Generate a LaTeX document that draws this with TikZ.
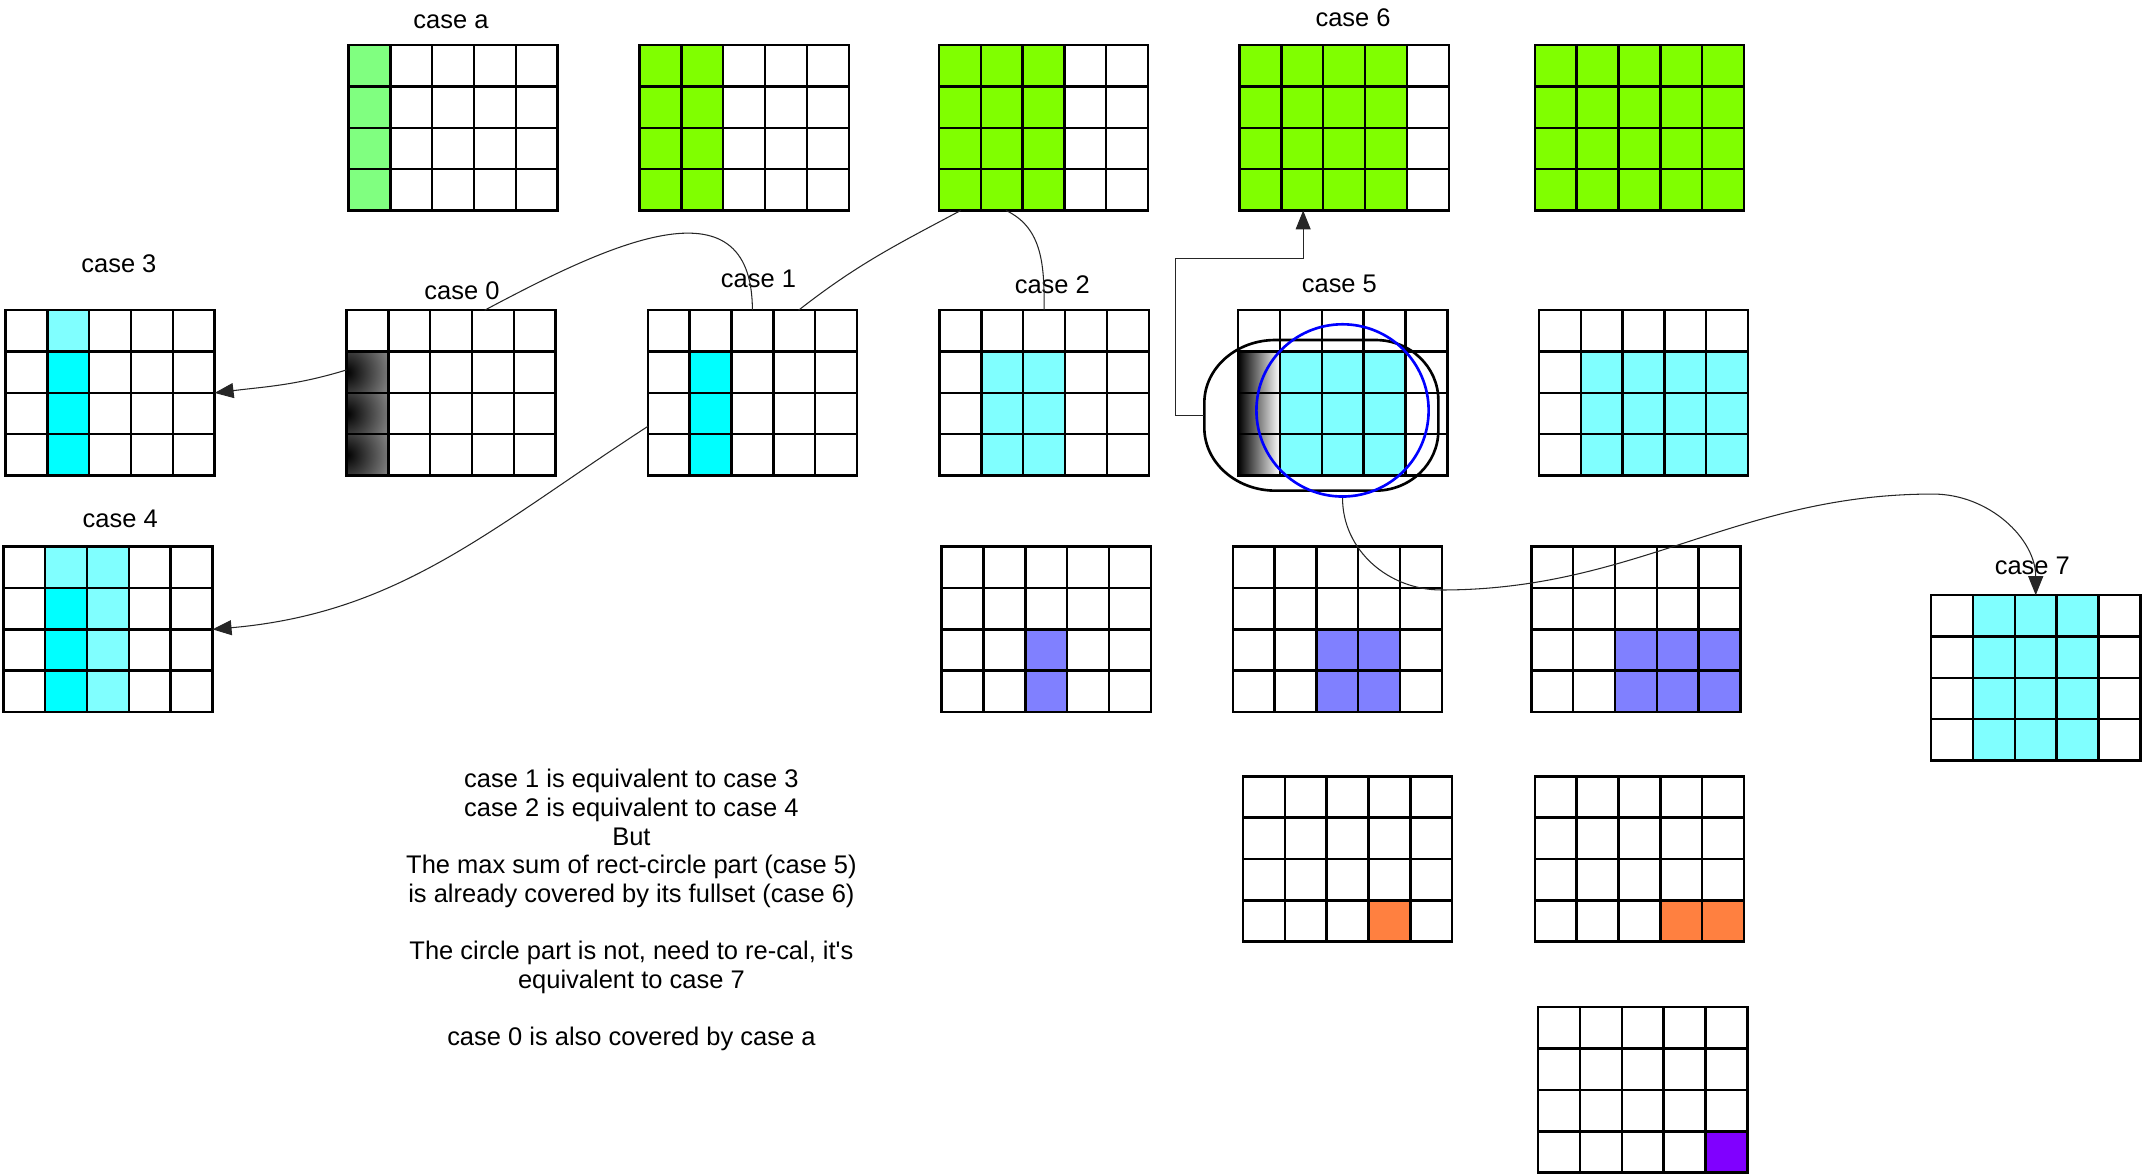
\documentclass[tikz,border=0pt]{standalone}
\usepackage{fontspec}
\setmainfont{Liberation Sans}
\usetikzlibrary{arrows.meta, calc, positioning}
\definecolor{mint}{HTML}{80FF80}
\definecolor{lime}{HTML}{80FF00}
\definecolor{aqua}{HTML}{00FFFF}
\definecolor{paleaqua}{HTML}{80FFFF}
\definecolor{lilac}{HTML}{8080FF}
\definecolor{tangerine}{HTML}{FF8040}
\definecolor{grape}{HTML}{8000FF}
\definecolor{ringblue}{HTML}{0000FF}

\tikzset{
  board/.style={minimum width=4.1815cm, minimum height=3.3069cm, inner sep=0pt, outer sep=0pt, anchor=north west},
  cell/.style={line width=1.4pt, line join=miter},
  blob/.style={path picture={\shade[inner color=black, outer color=white] (path picture bounding box.west) circle (64);}},
  fade/.style={left color=black, right color=white}
}

% 5x4 board: name, north west corner, filled blocks (col/row/col/row/colour)
\newcommand{\board}[3]{%
  \node[board] (#1) at (#2) {};
  \foreach \ca/\ra/\cb/\rb/\tone in {#3}
    \fill[\tone] ($(#1.north west)+(\ca*30.6,-\ra*30.25)$) rectangle ($(#1.north west)+(\cb*30.6+30.6,-\rb*30.25-30.25)$);
  \foreach \k in {1,...,4}
    \draw[cell] ($(#1.north west)+(\k*30.6,0)$) -- ++(0,-121);
  \foreach \k in {1,2,3}
    \draw[cell] ($(#1.north west)+(0,-\k*30.25)$) -- ++(153,0);
  \draw[cell] (#1.south west) rectangle (#1.north east);
}

\begin{document}
\begin{tikzpicture}[x=0.02733cm, y=0.02733cm,
  tag/.style={font=\fontsize{14.5}{16.3}\selectfont, inner sep=0pt},
  note/.style={font=\fontsize{14.5}{16.3}\selectfont, align=center, inner sep=0pt},
  link/.style={draw=black!85, line width=0.6pt},
  arr/.style={link, -{Triangle[length=0.38cm, width=0.3cm]}},
  hullline/.style={line width=1.5pt},
  ring/.style={circle, draw=ringblue, line width=1.5pt, minimum size=3.444cm, inner sep=0pt}
]
\useasboundingbox (0,0) rectangle (1568,860);

% top row
\board{ga}{255,827}{0/0/0/3/mint}
\board{gb}{468,827}{0/0/1/3/lime}
\board{gc}{687,827}{0/0/2/3/lime}
\board{g6}{907,827}{0/0/3/3/lime}
\board{gf}{1123,827}{0/0/4/3/lime}

% second row
\board{c3}{4,633}{1/0/1/0/paleaqua, 1/1/1/3/aqua}
\board{c0}{253.5,633}{0/1/0/1/blob, 0/2/0/2/blob, 0/3/0/3/blob}
\board{c1}{474,633}{1/1/1/3/aqua}
\board{c2}{687.5,633}{1/1/2/3/paleaqua}
\board{c5}{906,633}{0/1/0/3/fade, 1/1/3/3/paleaqua}
\board{c5b}{1126,633}{1/1/4/3/paleaqua}

% third row
\board{c4}{2.5,460}{1/0/2/3/paleaqua, 1/1/1/3/aqua}
\board{p1}{689,460}{2/2/2/3/lilac}
\board{p2}{902,460}{2/2/3/3/lilac}
\board{p3}{1120.5,460}{2/2/4/3/lilac}
\board{c7}{1413,424.5}{1/0/3/3/paleaqua}

% bottom rows
\board{o1}{909.5,292}{3/3/3/3/tangerine}
\board{o2}{1123,292}{3/3/4/3/tangerine}
\board{v1}{1125.5,123}{4/3/4/3/grape}

% rect-circle part of case 5
\node[minimum width=4.679cm, minimum height=3.012cm, inner sep=0pt, outer sep=0pt] (hull) at (966.8,556.1) {};
\draw[hullline] ($(hull.north west)+(52,0)$) -- ($(hull.north east)+(-46,0)$)
  arc[start angle=90, end angle=0, x radius=46, y radius=44]
  -- ($(hull.south east)+(0,44)$)
  arc[start angle=0, end angle=-90, x radius=46, y radius=44]
  -- ($(hull.south west)+(52,0)$)
  arc[start angle=270, end angle=180, x radius=52, y radius=46]
  -- ($(hull.north west)+(0,-46)$)
  arc[start angle=180, end angle=90, x radius=52, y radius=46]
  -- cycle;
\node[ring] (ring) at (982.3,559.7) {};

\node[tag] (la) at (330,844) {case a};
\node[tag] (l6) at (990,847) {case 6};
\node[tag] (l3) at (87,667) {case 3};
\node[tag] (l0) at (338,647) {case 0};
\node[tag] (l1) at (555,656) {case 1};
\node[tag] (l2) at (770,652) {case 2};
\node[tag] (l5) at (980,652) {case 5};
\node[tag] (l4) at (88,480) {case 4};
\node[tag] (l7) at (1487,446) {case 7};

\node[note] (memo) at (462,194) {case 1 is equivalent to case 3\\case 2 is equivalent to case 4\\But\\The max sum of rect-circle part (case 5)\\is already covered by its fullset (case 6)\\[16.3pt]The circle part is not, need to re-cal, it\textquotesingle s\\equivalent to case 7\\[16.3pt]case 0 is also covered by case a};

% connectors
\draw[arr] ($(c0.north west)+(0,-43.7)$) to[out=197, in=7] (c3.east);
\draw[link] ($(c0.north west)+(101.1,0)$) to[out=28, in=90, looseness=1.3] (c1.north);
\draw[link] ($(c1.north west)+(110.3,0)$) to[out=38, in=208] ($(gc.south west)+(16,0)$);
\draw[link] ($(gc.south west)+(49,0)$) to[out=-25, in=90] (c2.north);
\draw[arr] ($(c1.north west)+(0,-85)$) to[out=213, in=5] (c4.east);
\draw[arr] (ring.south) to[out=-90, in=180] (1054.7,428.3) to[out=0, in=180] (1414.3,498.5) to[out=0, in=90] (c7.north);
\draw[arr] (hull.west) -- ++(-21,0) |- ($(g6.south west)+(46.5,-35)$) -- ($(g6.south west)+(46.5,0)$);
\end{tikzpicture}
\end{document}
